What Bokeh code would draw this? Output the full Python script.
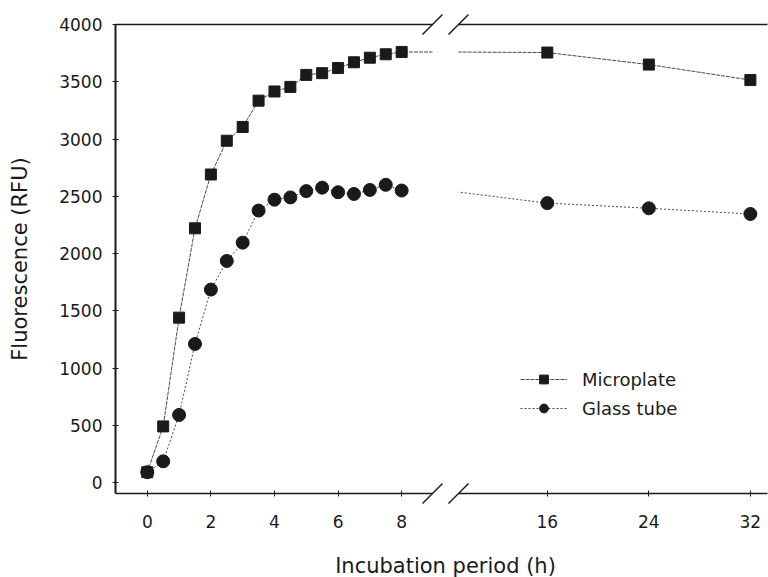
from bokeh.plotting import figure
from bokeh.layouts import row
from bokeh.models import Range1d, FixedTicker, LinearAxis, Legend, LegendItem, GridBox
from bokeh.core.properties import value
from bokeh.embed import file_html
from bokeh.resources import INLINE

# Incubation time (h) and fluorescence readings (RFU)
hours = [0, 0.5, 1, 1.5, 2, 2.5, 3, 3.5, 4, 4.5, 5, 5.5, 6, 6.5, 7, 7.5, 8, 16, 24, 32]
microplate = [90, 490, 1440, 2220, 2690, 2985, 3105, 3335, 3415, 3455, 3560, 3575,
              3620, 3670, 3710, 3740, 3760, 3755, 3650, 3515]
glass_tube = [90, 185, 590, 1210, 1685, 1935, 2095, 2375, 2470, 2490, 2545, 2575,
              2535, 2520, 2555, 2600, 2550, 2440, 2395, 2345]

left_ticks = [0, 2, 4, 6, 8]
right_ticks = [16, 24, 32]
y_ticks = [0, 500, 1000, 1500, 2000, 2500, 3000, 3500, 4000]

FONT = "DejaVu Sans"
INK = "#1a1a1a"
CURVE = "#4a4a4a"

W, H = 768, 577
TOP, BOTTOM = 24, 493            # frame top / bottom (px)
L_LEFT, L_RIGHT = 115, 432       # left panel frame (px)
R_LEFT, R_RIGHT = 458, 767       # right panel frame (px)
SPLIT = (L_RIGHT + R_LEFT) // 2  # where the two canvases meet

y_range = Range1d(-96, 4000)
left_range = Range1d(-1.0, 8.97)
right_range = Range1d(9.0, 33.35)


def styled_axis(ticks, line_width=1.5, standoff=10):
    return LinearAxis(ticker=FixedTicker(ticks=ticks),
                      axis_line_color=INK, axis_line_width=line_width,
                      major_tick_line_color=INK, major_tick_line_width=1,
                      major_tick_in=3, major_tick_out=3,
                      minor_tick_line_color=None,
                      major_label_standoff=standoff,
                      major_label_text_font=FONT, major_label_text_font_size="17px",
                      major_label_text_color=INK)


def top_line():
    return LinearAxis(ticker=FixedTicker(ticks=[]), axis_line_color=INK, axis_line_width=1.5,
                      major_tick_line_color=None, minor_tick_line_color=None,
                      major_tick_out=0, major_tick_in=0, major_label_standoff=0,
                      major_label_text_font_size="0px")


def make_fig(x_range, frame_left, frame_right, canvas_left, canvas_right):
    p = figure(width=canvas_right - canvas_left, height=H, x_range=x_range, y_range=y_range,
               output_backend="svg", toolbar_location=None,
               x_axis_location=None, y_axis_location=None,
               min_border_left=frame_left - canvas_left,
               min_border_right=canvas_right - frame_right,
               min_border_top=TOP, min_border_bottom=H - BOTTOM)
    p.outline_line_color = None
    p.background_fill_color = "white"
    p.border_fill_color = "white"
    p.xgrid.visible = False
    p.ygrid.visible = False
    p.add_layout(top_line(), "above")
    return p


# Left panel: 0-8 h
left = make_fig(left_range, L_LEFT, L_RIGHT, 0, SPLIT)
left.add_layout(styled_axis(left_ticks, 1.5, 18), "below")
yax = styled_axis(y_ticks, 2, 10)
yax.axis_label = "Fluorescence (RFU)"
yax.axis_label_text_font = FONT
yax.axis_label_text_font_size = "21px"
yax.axis_label_text_font_style = "normal"
yax.axis_label_text_color = INK
yax.axis_label_standoff = 24
left.add_layout(yax, "left")

early_h = [h for h in hours if h <= 8]
early_g = [g for h, g in zip(hours, glass_tube) if h <= 8]

left.line(hours, microplate, line_color=CURVE, line_width=1, line_dash="4 1")
left.line(early_h, early_g, line_color=CURVE, line_width=1, line_dash="2 2")
left.scatter(hours, microplate, marker="square", size=11, fill_color=INK, line_color=INK)
left.scatter(hours, glass_tube, marker="circle", size=13, fill_color=INK, line_color=INK)

# Right panel: 16-32 h
right = make_fig(right_range, R_LEFT, R_RIGHT, SPLIT, W)
right.add_layout(styled_axis(right_ticks, 1.5, 18), "below")

mp_line = right.line(hours, microplate, line_color=CURVE, line_width=1, line_dash="4 1")
gt_line = right.line(hours, glass_tube, line_color=CURVE, line_width=1, line_dash="2 2")
mp_pts = right.scatter(hours, microplate, marker="square", size=11, fill_color=INK, line_color=INK)
gt_pts = right.scatter(hours, glass_tube, marker="circle", size=13, fill_color=INK, line_color=INK)

legend = Legend(items=[LegendItem(label="Microplate", renderers=[mp_line, mp_pts]),
                       LegendItem(label="Glass tube", renderers=[gt_line, gt_pts])],
                location=(62, 74), padding=0, margin=0, spacing=7,
                glyph_width=47, glyph_height=22, label_height=22, label_standoff=15,
                label_text_font=FONT, label_text_font_size="18px", label_text_color=INK,
                border_line_color=None, background_fill_alpha=0)
right.add_layout(legend)

# Transparent overlay in page pixels: axis-break slashes and the shared x-axis title
over = figure(width=W, height=H, x_range=Range1d(0, W), y_range=Range1d(H, 0),
              output_backend="svg", toolbar_location=None, min_border=0,
              x_axis_location=None, y_axis_location=None)
over.outline_line_color = None
over.background_fill_color = None
over.border_fill_color = None
over.xgrid.visible = False
over.ygrid.visible = False

half = 10
bx = [L_RIGHT, R_LEFT, L_RIGHT, R_LEFT]
by = [TOP, TOP, BOTTOM, BOTTOM]
over.segment(x0=[x - half for x in bx], y0=[y + half for y in by],
             x1=[x + half for x in bx], y1=[y - half for y in by],
             line_color=INK, line_width=1.5)
over.text(x=[SPLIT], y=[565], text=["Incubation period (h)"], text_align="center",
          text_baseline="middle", text_font=value(FONT), text_font_size="21px", text_color=INK)

panels = row(left, right, spacing=0)
layout = GridBox(children=[(panels, 0, 0), (over, 0, 0)])
open("out.html", "w").write(file_html(layout, INLINE))
